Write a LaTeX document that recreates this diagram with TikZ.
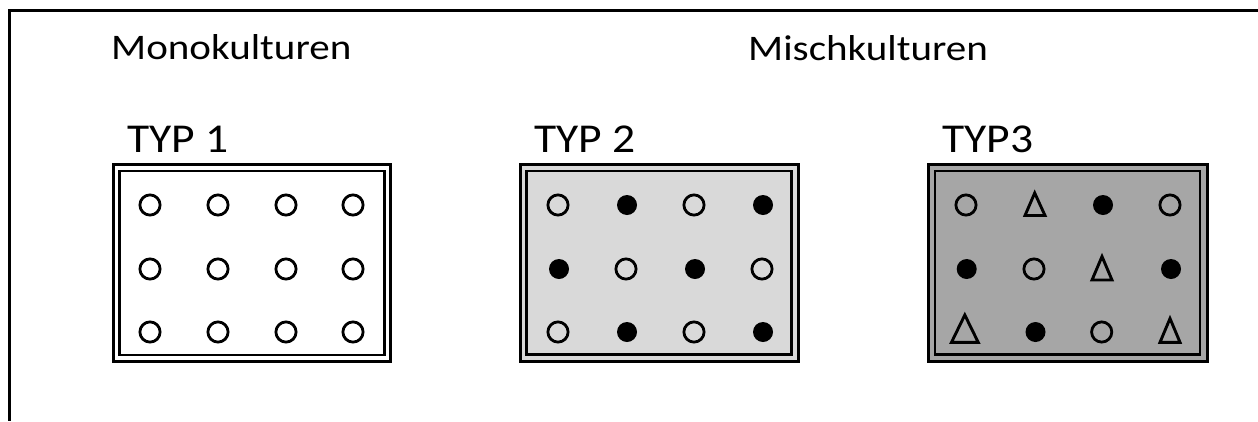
\documentclass[tikz,border=0pt]{standalone}
\usepackage{fontspec}
\setmainfont{Carlito}
\begin{document}
\begin{tikzpicture}[x=1pt,y=-1pt,
  heading/.style={anchor=base west,inner sep=0pt,xscale=1.14,font=\fontsize{36}{40}\selectfont},
  typlabel/.style={anchor=base west,inner sep=0pt,xscale=1.11,font=\fontsize{41}{46}\selectfont},
  frameline/.style={draw=black,line width=3pt},
  boxline/.style={draw=black,line width=3pt},
  opendot/.style={circle,draw=black,fill=none,line width=2.8pt,minimum size=20.2pt,inner sep=0pt},
  filldot/.style={circle,fill=black,minimum size=20pt,inner sep=0pt},
  tri/.style={draw=black,line width=2.9pt,line join=miter}]
\useasboundingbox (0,0) rectangle (1258,421);
\definecolor{lightfill}{HTML}{D9D9D9}
\definecolor{darkfill}{HTML}{A6A6A6}

% outer frame: top and left edge
\coordinate (ftl) at (9.7,10.3);
\coordinate (ftr) at (1258,10.3);
\coordinate (fbl) at (9.7,421);
\draw[frameline] (ftr) -- (ftl) -- (fbl);

% headings
\node[heading] (mono) at (111,59) {Monokulturen};
\node[heading] (misch) at (748,60) {Mischkulturen};
\node[typlabel] (typ1) at (127,152) {TYP 1};
\node[typlabel] (typ2) at (534,152) {TYP 2};
\node[typlabel] (typ3) at (942,152) {TYP3};

% field plots with double frame
\fill[white] (113.3,164.5) rectangle (390,361.5);
\draw[boxline] (113.3,164.5) rectangle (390,361.5);
\draw[boxline,line width=2.6pt] (119.5,171) rectangle (384.2,355);

\fill[lightfill] (520,164.5) rectangle (798.7,361.7);
\draw[boxline] (520,164.5) rectangle (798.7,361.7);
\draw[boxline,line width=2.6pt] (526.7,171) rectangle (791.3,354.3);

\fill[darkfill] (928.3,164.5) rectangle (1207,361.7);
\draw[boxline] (928.3,164.5) rectangle (1207,361.7);
\draw[boxline,line width=2.6pt] (935,171) rectangle (1200,354.3);

% TYP 1: only one crop
\foreach \c/\x in {1/150,2/218,3/286,4/353}
  \foreach \r/\y in {1/205,2/269,3/332}
    \node[opendot] (a\r\c) at (\x,\y) {};

% TYP 2: two crops, alternating
\node[opendot] (b11) at (558,205) {};
\node[filldot] (b12) at (627,205) {};
\node[opendot] (b13) at (694,205) {};
\node[filldot] (b14) at (763,205) {};
\node[filldot] (b21) at (559,269) {};
\node[opendot] (b22) at (626,269) {};
\node[filldot] (b23) at (695,269) {};
\node[opendot] (b24) at (762,269) {};
\node[opendot] (b31) at (558,332) {};
\node[filldot] (b32) at (627,332) {};
\node[opendot] (b33) at (694,332) {};
\node[filldot] (b34) at (763,332) {};

% TYP 3: three crops
\node[opendot] (c11) at (966,205) {};
\node[filldot] (c13) at (1103,205) {};
\node[opendot] (c14) at (1170,205) {};
\node[filldot] (c21) at (966.7,269) {};
\node[opendot] (c22) at (1034,269) {};
\node[filldot] (c24) at (1171,269) {};
\node[filldot] (c32) at (1035.5,332) {};
\node[opendot] (c33) at (1101.7,332) {};
\draw[tri] (1025,215.5) -- (1034.7,193) -- (1045,215.5) -- cycle;
\draw[tri] (1092,280) -- (1102,256.5) -- (1112,280) -- cycle;
\draw[tri] (951.5,342.3) -- (964.8,315) -- (978.2,342.3) -- cycle;
\draw[tri] (1160,342.3) -- (1170,318.5) -- (1180,342.3) -- cycle;
\end{tikzpicture}
\end{document}
